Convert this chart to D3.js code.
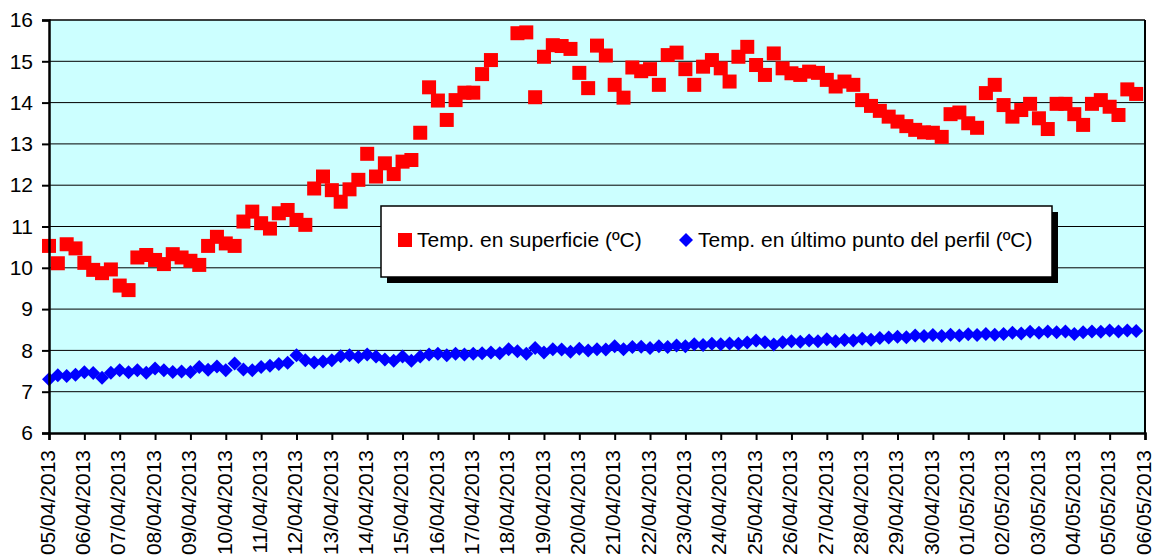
<!DOCTYPE html>
<html lang="es">
<head>
<meta charset="UTF-8" />
<script src="https://d3js.org/d3.v7.min.js"></script>
<style>
  body { margin: 0; background: #fff; }
  svg text { font-family: Arial, "Liberation Sans", sans-serif; fill: #000; }
</style>
</head>
<body>
<div id="chart"></div>
<script>
// surface temperature (red squares), one reading every 6 hours from 05/04/2013 00:00
var surfaceTemp = [
  10.53, 10.11, 10.57, 10.47, 10.12, 9.95, 9.87, 9.96, 9.57, 9.46,
  10.25, 10.31, 10.19, 10.09, 10.33, 10.25, 10.17, 10.07, 10.53, 10.75,
  10.59, 10.53, 11.12, 11.36, 11.08, 10.95, 11.32, 11.40, 11.16, 11.04,
  11.92, 12.21, 11.88, 11.60, 11.90, 12.13, 12.76, 12.21, 12.53, 12.27,
  12.57, 12.61, 13.27, 14.37, 14.05, 13.58, 14.06, 14.24, 14.24, 14.69,
  15.03, null, null, 15.68, 15.70, 14.13, 15.11, 15.39, 15.37, 15.30,
  14.72, 14.35, 15.38, 15.14, 14.43, 14.12, 14.85, 14.76, 14.81, 14.43,
  15.15, 15.21, 14.81, 14.43, 14.87, 15.03, 14.83, 14.51, 15.11, 15.35,
  14.91, 14.67, 15.19, 14.83, 14.71, 14.67, 14.75, 14.72, 14.55, 14.39,
  14.51, 14.43, 14.06, 13.92, 13.80, 13.66, 13.54, 13.43, 13.34, 13.28,
  13.27, 13.17, 13.72, 13.76, 13.50, 13.39, 14.23, 14.43, 13.94, 13.66,
  13.82, 13.97, 13.62, 13.36, 13.97, 13.97, 13.72, 13.46, 13.97, 14.06,
  13.90, 13.70, 14.32, 14.21
];

// temperature at the last point of the profile (blue diamonds)
var bottomTemp = [
  7.30, 7.40, 7.38, 7.41, 7.47, 7.45, 7.34, 7.46, 7.52, 7.47,
  7.52, 7.46, 7.56, 7.52, 7.48, 7.49, 7.48, 7.60, 7.53, 7.61,
  7.52, 7.68, 7.54, 7.52, 7.60, 7.63, 7.67, 7.70, 7.88, 7.76,
  7.71, 7.73, 7.76, 7.86, 7.88, 7.84, 7.90, 7.85, 7.78, 7.75,
  7.85, 7.75, 7.85, 7.90, 7.92, 7.88, 7.92, 7.90, 7.92, 7.93,
  7.95, 7.93, 8.03, 7.98, 7.92, 8.06, 7.95, 8.03, 8.02, 7.97,
  8.04, 8.00, 8.03, 8.02, 8.10, 8.03, 8.08, 8.09, 8.06, 8.10,
  8.08, 8.12, 8.10, 8.15, 8.13, 8.16, 8.15, 8.17, 8.16, 8.19,
  8.24, 8.20, 8.14, 8.20, 8.22, 8.21, 8.24, 8.22, 8.27, 8.22,
  8.25, 8.24, 8.28, 8.26, 8.30, 8.31, 8.33, 8.32, 8.36, 8.35,
  8.37, 8.35, 8.38, 8.36, 8.39, 8.37, 8.40, 8.38, 8.40, 8.43,
  8.41, 8.45, 8.43, 8.46, 8.44, 8.46, 8.40, 8.44, 8.46, 8.45,
  8.48, 8.46, 8.48, 8.47
];

var seriesNames = ["Temp. en superficie (ºC)", "Temp. en último punto del perfil (ºC)"];
var yTicks = [6, 7, 8, 9, 10, 11, 12, 13, 14, 15, 16];

var startDate = new Date(2013, 3, 5);
var endDate = new Date(2013, 4, 6);
var stepHours = 6;

var width = 1154, height = 556;
var margin = {top: 20, right: 9, bottom: 123, left: 49};
var plotW = width - margin.left - margin.right,
    plotH = height - margin.top - margin.bottom;

var svg = d3.select("#chart").append("svg")
    .attr("width", width)
    .attr("height", height);

var g = svg.append("g")
    .attr("transform", "translate(" + margin.left + "," + margin.top + ")");

var x = d3.scaleTime().domain([startDate, endDate]).range([0, plotW]);
var y = d3.scaleLinear().domain([6, 16]).range([plotH, 0]);

function timeAt(i) { return d3.timeHour.offset(startDate, i * stepHours); }

// plot background
g.append("rect")
    .attr("width", plotW)
    .attr("height", plotH)
    .attr("fill", "#ccffff");

// horizontal grid lines
g.selectAll(".grid")
  .data(yTicks.slice(1, -1))
  .enter().append("line")
    .attr("x1", 0).attr("x2", plotW)
    .attr("y1", function(d) { return y(d); })
    .attr("y2", function(d) { return y(d); })
    .attr("stroke", "#000")
    .attr("stroke-width", 1);

// frame top / right
g.append("line").attr("x1", 0).attr("x2", plotW).attr("y1", 0).attr("y2", 0)
    .attr("stroke", "#000").attr("stroke-width", 1.5);
g.append("line").attr("x1", plotW).attr("x2", plotW).attr("y1", 0).attr("y2", plotH)
    .attr("stroke", "#000").attr("stroke-width", 2);

// blue diamonds
var diamond = "M0,-7L7,0L0,7L-7,0Z";
g.append("g").selectAll("path")
  .data(bottomTemp.map(function(v, i) { return {t: timeAt(i), v: v}; })
                  .filter(function(d) { return d.v != null; }))
  .enter().append("path")
    .attr("d", diamond)
    .attr("transform", function(d) { return "translate(" + x(d.t) + "," + y(d.v) + ")"; })
    .attr("fill", "#0000ff");

// red squares
var sq = 14;
g.append("g").selectAll("rect")
  .data(surfaceTemp.map(function(v, i) { return {t: timeAt(i), v: v}; })
                   .filter(function(d) { return d.v != null; }))
  .enter().append("rect")
    .attr("x", function(d) { return x(d.t) - sq / 2; })
    .attr("y", function(d) { return y(d.v) - sq / 2; })
    .attr("width", sq).attr("height", sq)
    .attr("fill", "#ff0000");

// y axis
var yAxis = g.append("g")
    .call(d3.axisLeft(y).tickValues(yTicks).tickSize(7).tickPadding(9).tickFormat(d3.format("d")));
yAxis.select(".domain").attr("stroke-width", 2.5);
yAxis.selectAll(".tick line").attr("stroke-width", 2);
yAxis.selectAll("text").style("font-size", "21px");

// x axis
var xAxis = g.append("g")
    .attr("transform", "translate(0," + plotH + ")")
    .call(d3.axisBottom(x)
      .ticks(d3.timeDay.every(1))
      .tickSize(7)
      .tickFormat(d3.timeFormat("%d/%m/%Y")));
xAxis.select(".domain").attr("stroke-width", 2.5);
xAxis.selectAll(".tick line").attr("stroke-width", 2);
xAxis.selectAll("text")
    .style("font-size", "21px")
    .attr("text-anchor", "end")
    .attr("transform", "rotate(-90)")
    .attr("x", -17)
    .attr("y", 0)
    .attr("dy", "0.25em");

// legend
var lg = svg.append("g").attr("transform", "translate(381,206)");
var lgW = 671, lgH = 71;
lg.append("rect").attr("x", 6).attr("y", 6).attr("width", lgW).attr("height", lgH).attr("fill", "#000");
lg.append("rect").attr("width", lgW).attr("height", lgH)
    .attr("fill", "#fff").attr("stroke", "#000").attr("stroke-width", 1.5);

lg.append("rect").attr("x", 17).attr("y", 27).attr("width", 14).attr("height", 14).attr("fill", "#ff0000");
lg.append("text").attr("x", 36).attr("y", 41).style("font-size", "21px").text(seriesNames[0]);

lg.append("path").attr("d", diamond).attr("transform", "translate(305,34)").attr("fill", "#0000ff");
lg.append("text").attr("x", 317).attr("y", 41).style("font-size", "21px").text(seriesNames[1]);
</script>
</body>
</html>
